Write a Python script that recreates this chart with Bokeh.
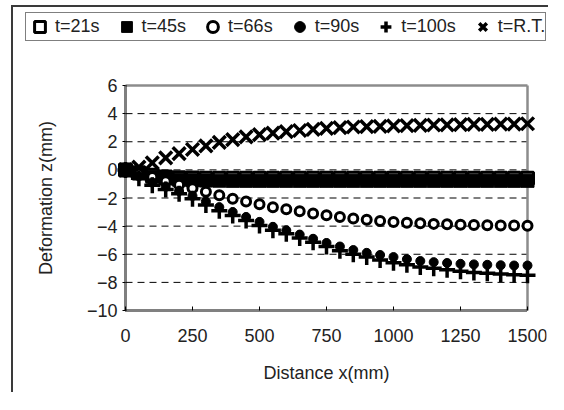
from bokeh.plotting import figure
from bokeh.models import Range1d, FixedTicker, Legend, LegendItem
from bokeh.embed import file_html
from bokeh.resources import INLINE

# ---- data ----
DIST = [0, 50, 100, 150, 200, 250, 300, 350, 400, 450, 500, 550, 600, 650, 700,
        750, 800, 850, 900, 950, 1000, 1050, 1100, 1150, 1200, 1250, 1300, 1350,
        1400, 1450, 1500]
T21 = [0, -0.20, -0.38, -0.50, -0.56, -0.58, -0.59, -0.60, -0.60, -0.60, -0.60,
       -0.60, -0.60, -0.60, -0.60, -0.60, -0.60, -0.60, -0.60, -0.60, -0.60,
       -0.60, -0.60, -0.60, -0.60, -0.60, -0.60, -0.60, -0.60, -0.60, -0.60]
T45 = [0, -0.25, -0.48, -0.62, -0.70, -0.74, -0.76, -0.77, -0.78, -0.78, -0.78,
       -0.78, -0.78, -0.78, -0.78, -0.78, -0.78, -0.78, -0.78, -0.78, -0.78,
       -0.78, -0.78, -0.78, -0.78, -0.78, -0.78, -0.78, -0.78, -0.78, -0.78]
T66 = [0, -0.25, -0.50, -0.80, -1.05, -1.30, -1.55, -1.80, -2.05, -2.25, -2.45,
       -2.65, -2.80, -2.95, -3.10, -3.22, -3.35, -3.45, -3.55, -3.63, -3.70,
       -3.76, -3.80, -3.84, -3.87, -3.90, -3.92, -3.94, -3.95, -3.96, -3.97]
T90 = [0, -0.45, -0.90, -1.20, -1.50, -1.85, -2.25, -2.65, -3.00, -3.35, -3.70,
       -4.05, -4.30, -4.60, -4.90, -5.20, -5.45, -5.70, -5.90, -6.05, -6.20,
       -6.35, -6.48, -6.56, -6.62, -6.68, -6.72, -6.75, -6.78, -6.80, -6.80]
T100 = [0, -0.60, -1.10, -1.40, -1.70, -2.05, -2.50, -2.90, -3.25, -3.60, -3.95,
        -4.30, -4.55, -4.85, -5.15, -5.45, -5.75, -6.00, -6.20, -6.40, -6.60,
        -6.75, -6.90, -7.00, -7.10, -7.20, -7.30, -7.35, -7.40, -7.45, -7.50]
TRT = [0, 0.20, 0.50, 0.85, 1.15, 1.45, 1.70, 1.95, 2.15, 2.35, 2.50, 2.62,
       2.72, 2.80, 2.88, 2.95, 3.00, 3.05, 3.08, 3.10, 3.13, 3.15, 3.17, 3.19,
       3.20, 3.22, 3.23, 3.24, 3.25, 3.26, 3.28]
SERIES_LABELS = ["t=21s", "t=45s", "t=66s", "t=90s", "t=100s", "t=R.T."]

X_TICKS = [0, 250, 500, 750, 1000, 1250, 1500]
X_TICK_LABELS = ["0", "250", "500", "750", "1000", "1250", "1500"]
Y_TICKS = [-10, -8, -6, -4, -2, 0, 2, 4, 6]
Y_TICK_LABELS = ["\u221210", "\u22128", "\u22126", "\u22124", "\u22122", "0", "2", "4", "6"]
X_MIN, X_MAX = 0, 1500
Y_MIN, Y_MAX = -10, 6

FONT = "Liberation Sans"
FRAME_COLOR = "#3a3a3a"

# ---- layout in canvas pixels ----
W, H = 548, 392
PLOT_L, PLOT_R, PLOT_T, PLOT_B = 125, 527, 85, 310      # the data area
FRAME_L, FRAME_R, FRAME_T, FRAME_B = 20, 546, 10, 390   # drawing frame (holds legend, labels)
sx = (PLOT_R - PLOT_L) / (X_MAX - X_MIN)
sy = (PLOT_B - PLOT_T) / (Y_MAX - Y_MIN)
x_lo = X_MIN - (PLOT_L - FRAME_L) / sx
x_hi = X_MAX + (FRAME_R - PLOT_R) / sx
y_hi = Y_MAX + (PLOT_T - FRAME_T) / sy
y_lo = Y_MIN - (FRAME_B - PLOT_B) / sy

STYLES = [
    dict(marker="square", size=12, line_color="black", line_width=3, fill_color="white"),
    dict(marker="square", size=13, line_color="black", line_width=1, fill_color="black"),
    dict(marker="circle", size=9, line_color="black", line_width=3, fill_color="white"),
    dict(marker="circle", size=9, line_color="black", line_width=1, fill_color="black"),
    dict(marker="cross", size=16, line_color="black", line_width=3.5),
    dict(marker="x", size=18, line_color="black", line_width=3.5),
]
SERIES = [T21, T45, T66, T90, T100, TRT]

p = figure(width=W, height=H, output_backend="svg", toolbar_location=None,
           x_range=Range1d(x_lo, x_hi), y_range=Range1d(y_lo, y_hi),
           min_border_left=FRAME_L, min_border_right=W - FRAME_R,
           min_border_top=FRAME_T, min_border_bottom=H - FRAME_B)
# outer chart-area frame (left and top edges)
p.styles = {"background-color": "white",
            "box-shadow": "inset 11px 5px 0 0 #ffffff, inset 13px 7px 0 0 %s" % FRAME_COLOR}
p.outline_line_color = None
p.background_fill_color = "white"
p.border_fill_alpha = 0
p.xgrid.visible = False
p.ygrid.visible = False

# dashed horizontal gridlines at inner major ticks
grid_y = Y_TICKS[1:-1]
p.segment(x0=[X_MIN] * len(grid_y), x1=[X_MAX] * len(grid_y), y0=grid_y, y1=grid_y,
          line_color="black", line_width=1, line_dash="7 5")
# top and right plot-area border (grey)
p.segment(x0=[X_MAX, X_MIN], x1=[X_MAX, X_MAX], y0=[Y_MIN, Y_MAX], y1=[Y_MAX, Y_MAX],
          line_color="#8c8c8c", line_width=2.5)

renderers = [p.scatter(DIST, ys, **st) for ys, st in zip(SERIES, STYLES)]

# axes (pinned to the data area's edges)
xa = p.xaxis[0]
xa.fixed_location = Y_MIN
xa.bounds = (X_MIN, X_MAX)
xa.ticker = FixedTicker(ticks=X_TICKS, minor_ticks=[])
xa.major_label_overrides = dict(zip(X_TICKS, X_TICK_LABELS))
xa.axis_line_color = "black"
xa.axis_line_width = 3
xa.axis_line_dash = "1 1"
xa.major_tick_in = 4
xa.major_tick_out = 0
xa.major_tick_line_width = 1
xa.minor_tick_line_color = None
xa.major_label_standoff = 18
xa.axis_label = "Distance x(mm)"
xa.axis_label_standoff = 18

ya = p.yaxis[0]
ya.fixed_location = X_MIN
ya.bounds = (Y_MIN, Y_MAX)
ya.ticker = FixedTicker(ticks=Y_TICKS, minor_ticks=[])
ya.major_label_overrides = dict(zip(Y_TICKS, Y_TICK_LABELS))
ya.axis_line_color = "black"
ya.axis_line_width = 3
ya.axis_line_dash = "1 1"
ya.major_tick_in = 0
ya.major_tick_out = 3
ya.minor_tick_line_color = None
ya.major_label_standoff = 5
ya.axis_label = "Deformation z(mm)"
ya.axis_label_standoff = 28

for ax in (xa, ya):
    ax.major_label_text_font = FONT
    ax.major_label_text_font_size = "18px"
    ax.major_label_text_color = "#222222"
    ax.axis_label_text_font = FONT
    ax.axis_label_text_font_size = "18px"
    ax.axis_label_text_font_style = "normal"
    ax.axis_label_text_color = "#222222"

LEG_L, LEG_T, LEG_H = 25, 14, 27
legend = Legend(items=[LegendItem(label=lab, renderers=[r])
                       for lab, r in zip(SERIES_LABELS, renderers)],
                orientation="horizontal",
                location=(LEG_L - FRAME_L, FRAME_B - LEG_T - LEG_H),
                glyph_width=27, glyph_height=27, label_standoff=2, spacing=13,
                padding=0, margin=0, border_line_color="black", border_line_width=1,
                background_fill_color="white", background_fill_alpha=1,
                label_text_font=FONT, label_text_font_size="18px",
                label_text_color="#222222")
p.add_layout(legend)

open("out.html", "w").write(file_html(p, INLINE))
